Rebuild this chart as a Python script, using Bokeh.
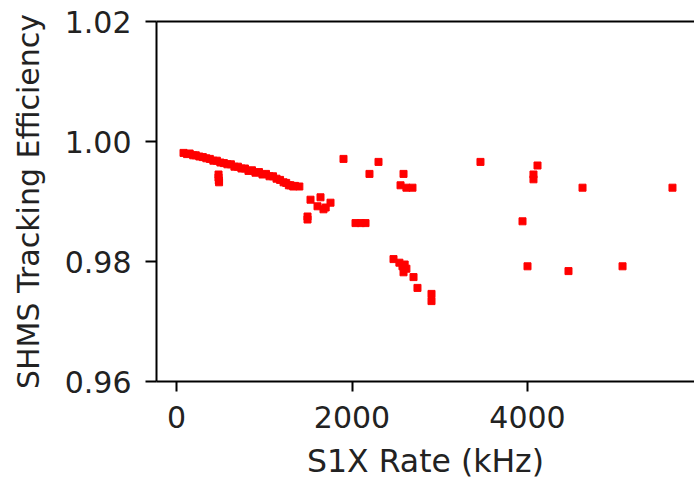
from bokeh.plotting import figure
from bokeh.models import Range1d, FixedTicker, LinearAxis, PrintfTickFormatter, ColumnDataSource
from bokeh.embed import file_html
from bokeh.resources import INLINE

# S1X rate (kHz) and SHMS tracking efficiency
rate_band = [80, 120, 150, 190, 220, 260, 300, 340, 380, 420, 460, 500, 540, 580,
             620, 660, 700, 740, 780, 820, 860, 900, 940, 980, 1020, 1060, 1100,
             1140, 1180, 1220, 1250, 1280, 1300, 1330, 1350, 1400]
eff_band = [0.9981, 0.9979, 0.9980, 0.9977, 0.9977, 0.9975, 0.9974, 0.9972, 0.9971,
            0.9968, 0.9968, 0.9965, 0.9964, 0.9962, 0.9962, 0.9958, 0.9958, 0.9955,
            0.9955, 0.9951, 0.9952, 0.9948, 0.9949, 0.9945, 0.9946, 0.9942, 0.9942,
            0.9938, 0.9936, 0.9932, 0.9931, 0.9927, 0.9927, 0.9925, 0.9926, 0.9925]

rate_other = [479, 479, 482, 485,
              1527, 1641, 1755, 1607, 1675, 1700, 1493, 1493, 1903,
              2302, 2199, 2587, 2553, 2620, 2689, 3464, 4114, 4068, 4068,
              2040, 2100, 2154, 3943,
              2473, 2540, 2575, 2600, 2587, 2620, 2701, 2746, 2906, 2906,
              4000, 4467, 5083, 4627, 5652]
eff_other = [0.9945, 0.9940, 0.9935, 0.9932,
             0.9903, 0.9907, 0.9898, 0.9892, 0.9887, 0.9890, 0.9875, 0.9870, 0.9971,
             0.9966, 0.9946, 0.9946, 0.9927, 0.9923, 0.9923, 0.9966, 0.9960, 0.9945, 0.9937,
             0.9864, 0.9864, 0.9864, 0.9867,
             0.9804, 0.9798, 0.9792, 0.9795, 0.9782, 0.9788, 0.9774, 0.9756, 0.9746, 0.9734,
             0.9792, 0.9784, 0.9792, 0.9923, 0.9923]

x_ticks = [0, 2000, 4000]
y_ticks = [0.96, 0.98, 1.00, 1.02]

rates = rate_band + rate_other
effs = eff_band + eff_other
src = ColumnDataSource(dict(x=rates, y=effs))

FONT = "DejaVu Sans"

p = figure(width=694, height=481, output_backend="svg", toolbar_location=None,
           x_range=Range1d(-228, 5903), y_range=Range1d(0.96, 1.02),
           min_border_left=156, min_border_right=0, min_border_top=21, min_border_bottom=98,
           x_axis_label="S1X Rate (kHz)", y_axis_label="SHMS Tracking Efficiency")
p.outline_line_color = None
p.grid.visible = False
p.background_fill_color = "white"
p.border_fill_color = "white"

p.scatter("x", "y", source=src, marker="square", size=7, color="red", line_color="red")

for ax in (p.xaxis[0], p.yaxis[0]):
    ax.axis_line_width = 2
    ax.axis_line_color = "black"
    ax.major_tick_line_width = 2
    ax.major_tick_line_color = "black"
    ax.major_tick_in = 0
    ax.minor_tick_line_color = None
    ax.major_label_text_font = FONT
    ax.major_label_text_font_size = "30px"
    ax.major_label_text_color = "#222222"
    ax.axis_label_text_font = FONT
    ax.axis_label_text_font_style = "normal"
    ax.axis_label_text_color = "#222222"

p.xaxis[0].axis_label_text_font_size = "31.5px"
p.yaxis[0].axis_label_text_font_size = "30px"
p.xaxis[0].ticker = FixedTicker(ticks=x_ticks)
p.yaxis[0].ticker = FixedTicker(ticks=y_ticks)
p.yaxis[0].formatter = PrintfTickFormatter(format="%.2f")
p.xaxis[0].major_tick_out = 10
p.yaxis[0].major_tick_out = 11
p.xaxis[0].major_label_standoff = 14
p.yaxis[0].major_label_standoff = 14
p.xaxis[0].axis_label_standoff = 12
p.yaxis[0].axis_label_standoff = 16

top = LinearAxis(ticker=FixedTicker(ticks=[]), axis_line_width=2, axis_line_color="black",
                 major_tick_out=0, major_tick_in=0, minor_tick_out=0, minor_tick_in=0,
                 major_label_text_font_size="0px")
p.add_layout(top, "above")

open("out.html", "w").write(file_html(p, INLINE))
